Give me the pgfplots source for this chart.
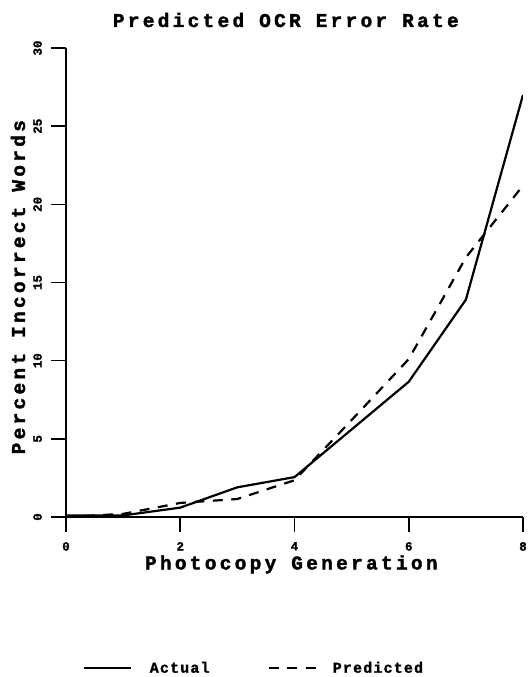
\documentclass[border=0pt]{standalone}
\usepackage{fontspec}
\usepackage{pgfplots}
\pgfplotsset{compat=1.18}
\setmainfont{Liberation Mono}[BoldFeatures={FakeBold=1.5}]
\newfontfamily\lblfont{Liberation Mono}[LetterSpace=17, BoldFeatures={FakeBold=1.8}]
\newfontfamily\legfont{Liberation Mono}[LetterSpace=8, BoldFeatures={FakeBold=1.5}]

\begin{document}
\begin{tikzpicture}
\path[use as bounding box] (0,0) rectangle (530bp,677bp);
\begin{axis}[
  at={(66bp,160bp)}, anchor=south west,
  scale only axis, width=457bp, height=469bp,
  xmin=0, xmax=8, ymin=0, ymax=30,
  axis x line=bottom, axis y line=left,
  axis line style={-, line width=2.4bp},
  xtick={0,2,4,6,8}, ytick={0,5,...,30},
  tick align=outside, xtick align=outside, ytick align=outside,
  major tick length=15bp,
  tick style={line width=1.6bp, black},
  tick label style={font=\fontsize{12.5}{12.5}\bfseries, /pgf/number format/assume math mode=true},
  yticklabel style={rotate=90, anchor=south, inner sep=0bp, yshift=9bp},
  xticklabel style={anchor=north, inner sep=0bp, yshift=-10bp},
  title={Predicted OCR Error Rate},
  title style={font=\lblfont\fontsize{19.5}{19.5}\bfseries, at={(axis description cs:0.481,1)}, anchor=center, yshift=22bp},
  xlabel={Photocopy Generation},
  xlabel style={font=\lblfont\fontsize{19.5}{19.5}\bfseries, at={(axis description cs:0.493,-0.101)}, anchor=center},
  ylabel={Percent Incorrect Words},
  ylabel style={font=\lblfont\fontsize{19.5}{19.5}\bfseries, at={(axis description cs:-0.105,0.49)}, anchor=center, rotate=0},
  legend style={draw=none, fill=none, at={(axis description cs:0.411,-0.322)}, anchor=center,
    font=\legfont\fontsize{15}{15}\bfseries, legend columns=2,
    /tikz/every even column/.append style={column sep=56bp},
    /tikz/every odd column/.append style={column sep=0bp},
    nodes={inner sep=2bp}},
  legend image code/.code={\draw[#1] (0bp,0bp) -- (47bp,0bp);},
  legend cell align=left,
]
\addplot[black, line width=2.2bp] coordinates {
(0,0.1) (1,0.1) (2,0.6) (3,1.9) (4,2.55) (5,5.6) (6,8.65) (7,13.9) (8,27.0)
};
\addlegendentry{\hspace{16bp}Actual}
\addplot[black, line width=2.2bp, dash pattern=on 10bp off 8.5bp] coordinates {
(0,0.0) (1,0.2) (2,0.9) (3,1.15) (4,2.35) (5,6.2) (6,10.1) (7,16.6) (8,21.2)
};
\addlegendentry{\hspace{14bp}Predicted}
\end{axis}
\end{tikzpicture}
\end{document}
